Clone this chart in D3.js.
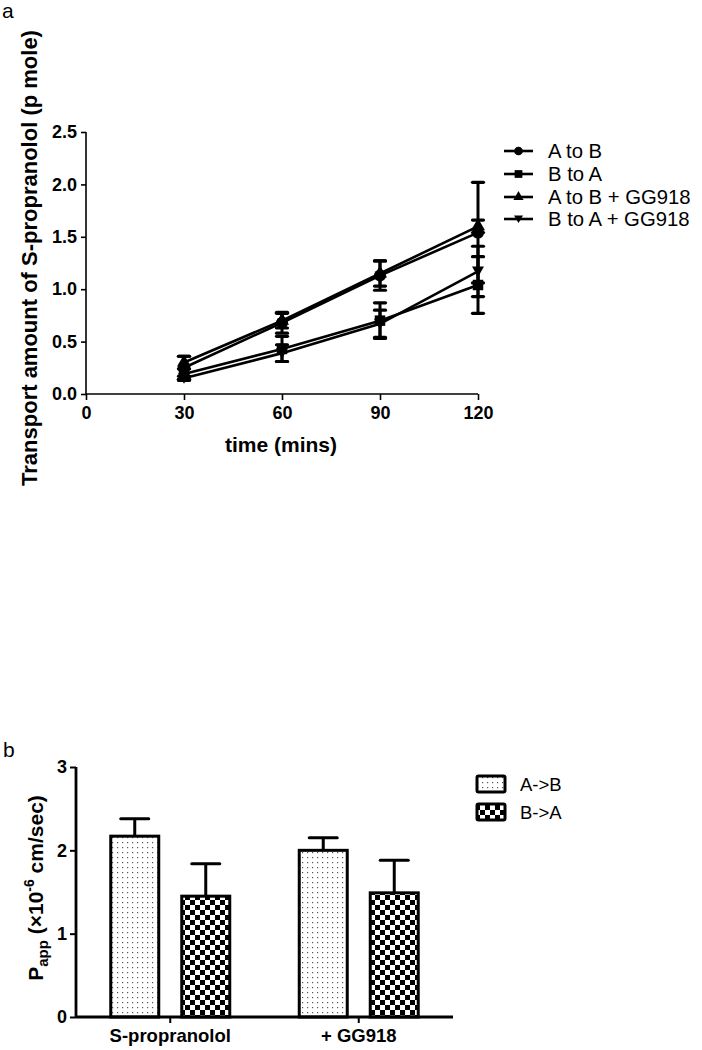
<!DOCTYPE html>
<html><head><meta charset="utf-8">
<script src="https://cdn.jsdelivr.net/npm/d3@7/dist/d3.min.js"></script>
<style>
body{margin:0;background:#fff;}
svg{display:block;font-family:"Liberation Sans",Arial,sans-serif;}
</style></head>
<body>
<svg id="chart" width="702" height="1050"></svg>
<script>
// ---------- Panel a data ----------
const times = [30, 60, 90, 120];
const xTicksA = [0, 30, 60, 90, 120];
const yTicksA = [0, 0.5, 1.0, 1.5, 2.0, 2.5];
const seriesNames = ["A to B", "B to A", "A to B + GG918", "B to A + GG918"];
const seriesSymbols = ["circle", "square", "triangle", "triangleDown"];
const valAtoB   = [0.25, 0.68, 1.13, 1.54];
const errAtoB   = [0.11, 0.10, 0.14, 0.48];
const valBtoA   = [0.19, 0.43, 0.70, 1.04];
const errBtoA   = [0.05, 0.12, 0.17, 0.27];
const valAtoBGG = [0.30, 0.70, 1.15, 1.60];
const errAtoBGG = [0.06, 0.07, 0.12, 0.06];
const valBtoAGG = [0.15, 0.39, 0.67, 1.17];
const errBtoAGG = [0.02, 0.08, 0.13, 0.24];

// ---------- Panel b data ----------
const groupsB = ["S-propranolol", "+ GG918"];
const barSeries = ["A->B", "B->A"];
const papp_AtoB = [2.17, 2.00];
const papp_AtoB_err = [0.21, 0.15];
const papp_BtoA = [1.45, 1.49];
const papp_BtoA_err = [0.39, 0.39];
const yTicksB = [0, 1, 2, 3];

const svg = d3.select("#chart");
const FONT = '"Liberation Sans", Arial, sans-serif';

// patterns
const defs = svg.append("defs");
const dots = defs.append("pattern").attr("id","dots").attr("patternUnits","userSpaceOnUse")
  .attr("width",5).attr("height",5);
dots.append("rect").attr("width",5).attr("height",5).attr("fill","#fff");
dots.append("rect").attr("x",2).attr("y",2).attr("width",1.2).attr("height",1.2).attr("fill","#555");
const checker = defs.append("pattern").attr("id","checker").attr("patternUnits","userSpaceOnUse")
  .attr("width",10).attr("height",10);
checker.append("rect").attr("width",10).attr("height",10).attr("fill","#fff");
checker.append("rect").attr("x",0).attr("y",0).attr("width",5).attr("height",5).attr("fill","#000");
checker.append("rect").attr("x",5).attr("y",5).attr("width",5).attr("height",5).attr("fill","#000");

// ================= Panel a =================
svg.append("text").attr("x",2).attr("y",18).attr("font-size",21).text("a");

const xA = d3.scaleLinear().domain([0,120]).range([86,478]);
const yA = d3.scaleLinear().domain([0,2.5]).range([394,132]);

const gA = svg.append("g");
const yAxisA = gA.append("g").attr("transform",`translate(${xA(0)},0)`)
  .call(d3.axisLeft(yA).tickValues(yTicksA).tickFormat(d3.format(".1f")).tickSize(5).tickPadding(4));
const xAxisA = gA.append("g").attr("transform",`translate(0,${yA(0)})`)
  .call(d3.axisBottom(xA).tickValues(xTicksA).tickSize(6).tickPadding(6));
[yAxisA, xAxisA].forEach(ax=>{
  ax.select(".domain").attr("stroke","#000").attr("stroke-width",1.6);
  ax.selectAll(".tick line").attr("stroke","#000").attr("stroke-width",1.6);
  ax.selectAll(".tick text").attr("font-family",FONT).attr("font-size",18).attr("font-weight","bold").attr("fill","#000");
});
yAxisA.select(".domain").attr("d",`M-0,${yA(2.5)}V${yA(0)}`);
xAxisA.select(".domain").attr("d",`M${xA(0)},0H${xA(120)}`);

gA.append("text").attr("transform",`translate(37,258) rotate(-90)`)
  .attr("text-anchor","middle").attr("font-size",22).attr("font-weight","bold")
  .text("Transport amount of S-propranolol (p mole)");
gA.append("text").attr("x",281).attr("y",452).attr("text-anchor","middle")
  .attr("font-size",21).attr("font-weight","bold").text("time (mins)");

const seriesA = [
  {name:seriesNames[0], sym:seriesSymbols[0], v:valAtoB, e:errAtoB},
  {name:seriesNames[1], sym:seriesSymbols[1], v:valBtoA, e:errBtoA},
  {name:seriesNames[2], sym:seriesSymbols[2], v:valAtoBGG, e:errAtoBGG},
  {name:seriesNames[3], sym:seriesSymbols[3], v:valBtoAGG, e:errBtoAGG}
];

function symbolPath(sym){
  if(sym==="circle") return d3.symbol(d3.symbolCircle, 115)();
  if(sym==="square") return d3.symbol(d3.symbolSquare, 110)();
  if(sym==="triangle") return d3.symbol(d3.symbolTriangle, 85)();
  return "M0,5.5L-6,-5L6,-5Z";
}

const line = d3.line().x(d=>xA(d.t)).y(d=>yA(d.v));
seriesA.forEach(s=>{
  const pts = times.map((t,i)=>({t, v:s.v[i], e:s.e[i]}));
  gA.append("path").datum(pts).attr("d",line).attr("fill","none")
    .attr("stroke","#000").attr("stroke-width",2.6);
  const eb = gA.append("g");
  pts.forEach(p=>{
    eb.append("line").attr("x1",xA(p.t)).attr("x2",xA(p.t))
      .attr("y1",yA(p.v-p.e)).attr("y2",yA(p.v+p.e)).attr("stroke","#000").attr("stroke-width",3);
    [p.v-p.e, p.v+p.e].forEach(c=>{
      eb.append("line").attr("x1",xA(p.t)-5.5).attr("x2",xA(p.t)+5.5)
        .attr("y1",yA(c)).attr("y2",yA(c)).attr("stroke","#000").attr("stroke-width",3.2)
        .attr("stroke-linecap","round");
    });
  });
  gA.append("g").selectAll("path").data(pts).join("path")
    .attr("transform",d=>`translate(${xA(d.t)},${yA(d.v)})`)
    .attr("d",symbolPath(s.sym)).attr("fill","#000");
});

// legend a
const legA = svg.append("g");
const legRowsA = [151, 174, 197, 219];
seriesA.forEach((s,i)=>{
  const y = legRowsA[i];
  legA.append("line").attr("x1",504).attr("x2",533).attr("y1",y).attr("y2",y)
    .attr("stroke","#000").attr("stroke-width",2.6);
  legA.append("path").attr("transform",`translate(518.5,${y})`)
    .attr("d", s.sym==="circle"? d3.symbol(d3.symbolCircle,60)() :
               s.sym==="square"? d3.symbol(d3.symbolSquare,60)() :
               s.sym==="triangle"? d3.symbol(d3.symbolTriangle,45)() : "M0,4L-4.5,-3.5L4.5,-3.5Z")
    .attr("fill","#000");
  legA.append("text").attr("x",548).attr("y",y).attr("dy","0.36em")
    .attr("font-size",20.3).text(s.name);
});

// ================= Panel b =================
svg.append("text").attr("x",3).attr("y",757).attr("font-size",21).text("b");

const x0 = d3.scaleBand().domain(groupsB).range([76,453]);
const x1 = d3.scaleBand().domain(barSeries).range([-59.5,59.5]).paddingInner(0.324);
const yB = d3.scaleLinear().domain([0,3]).range([1017,767]);

const gB = svg.append("g");
const barData = [];
groupsB.forEach((g,i)=>{
  barData.push({g, s:barSeries[0], v:papp_AtoB[i], e:papp_AtoB_err[i], fill:"url(#dots)"});
  barData.push({g, s:barSeries[1], v:papp_BtoA[i], e:papp_BtoA_err[i], fill:"url(#checker)"});
});
const cx = d=> x0(d.g)+x0.bandwidth()/2 + x1(d.s);
// error bars (upper only)
barData.forEach(d=>{
  const c = cx(d)+x1.bandwidth()/2;
  gB.append("line").attr("x1",c).attr("x2",c).attr("y1",yB(d.v)).attr("y2",yB(d.v+d.e))
    .attr("stroke","#000").attr("stroke-width",3);
  gB.append("line").attr("x1",c-14).attr("x2",c+14).attr("y1",yB(d.v+d.e)).attr("y2",yB(d.v+d.e))
    .attr("stroke","#000").attr("stroke-width",3).attr("stroke-linecap","round");
});
gB.selectAll("rect.bar").data(barData).join("rect").attr("class","bar")
  .attr("x",d=>cx(d)).attr("width",x1.bandwidth())
  .attr("y",d=>yB(d.v)).attr("height",d=>yB(0)-yB(d.v))
  .attr("fill",d=>d.fill).attr("stroke","#000").attr("stroke-width",3);

const yAxisB = gB.append("g").attr("transform",`translate(76,0)`)
  .call(d3.axisLeft(yB).tickValues(yTicksB).tickFormat(d3.format("d")).tickSize(6).tickPadding(3));
const xAxisB = gB.append("g").attr("transform",`translate(0,${yB(0)})`)
  .call(d3.axisBottom(x0).tickSize(6).tickPadding(6));
[yAxisB, xAxisB].forEach(ax=>{
  ax.select(".domain").attr("stroke","#000").attr("stroke-width",2.8);
  ax.selectAll(".tick line").attr("stroke","#000").attr("stroke-width",2);
  ax.selectAll(".tick text").attr("font-family",FONT).attr("font-size",18).attr("font-weight","bold").attr("fill","#000");
});
yAxisB.select(".domain").attr("d",`M0,${yB(3)}V${yB(0)}`);
xAxisB.select(".domain").attr("d",`M76,0H453`);
xAxisB.selectAll(".tick text").attr("font-size",18.5);

const yt = gB.append("text").attr("transform",`translate(43,888) rotate(-90)`)
  .attr("text-anchor","middle").attr("font-size",21).attr("font-weight","bold");
yt.append("tspan").text("P");
yt.append("tspan").attr("font-size",15).attr("dy",5).text("app");
yt.append("tspan").attr("dy",-5).text(" (\u00d710");
yt.append("tspan").attr("font-size",14).attr("dy",-9).text("-6");
yt.append("tspan").attr("dy",9).text(" cm/sec)");

// legend b
const legB = svg.append("g");
const legRowsB = [784, 812];
barSeries.forEach((s,i)=>{
  const y = legRowsB[i];
  legB.append("rect").attr("x",477).attr("y",y-8).attr("width",28).attr("height",16)
    .attr("rx",1.5).attr("fill", i===0?"url(#dots)":"url(#checker)")
    .attr("stroke","#000").attr("stroke-width",3);
  legB.append("text").attr("x",520).attr("y",y).attr("dy","0.36em")
    .attr("font-size",18.5).text(s);
});
</script>
</body></html>
